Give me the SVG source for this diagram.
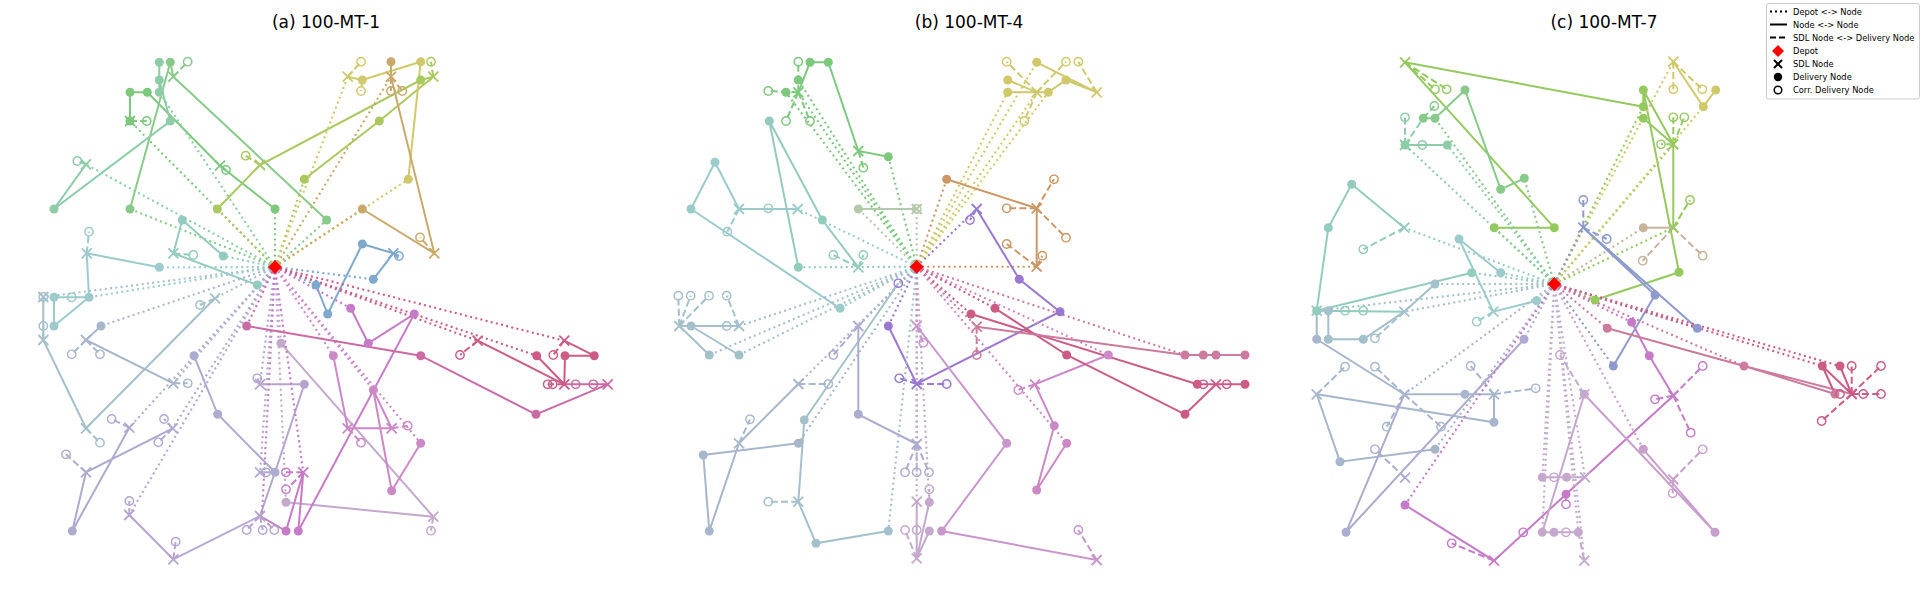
<svg xmlns="http://www.w3.org/2000/svg" xmlns:xlink="http://www.w3.org/1999/xlink" width="1923" height="600" viewBox="0 0 1923 600">
<style>
.sl{fill:none;stroke:currentColor;stroke-width:2}
.dt{fill:none;stroke:currentColor;stroke-width:2.1;stroke-dasharray:2 3.3}
.ds{fill:none;stroke:currentColor;stroke-width:2;stroke-dasharray:7 3.3}
.t{font-family:"DejaVu Sans","Liberation Sans",sans-serif;fill:#000}
.g1{color:#7dc87d}.g2{color:#88ca8a}.g3{color:#8dcca6}.yg{color:#a9c95f}.ye{color:#cfc96b}.tn{color:#c9a96b}
.bl{color:#7ea9cd}.tl{color:#93cbbe}.tl2{color:#9ccbcb}.tg{color:#a4c0ca}.gb{color:#a8b6cc}.lv{color:#adabd0}
.lv2{color:#b6a5d1}.ll{color:#c4a9cd}.ll2{color:#c89fcc}.mg{color:#c67bc8}.mg2{color:#cd88c6}.pk{color:#cc6aa4}
.rp{color:#cc5c86}.sg{color:#b3c9a9}.or{color:#cc9767}.pu{color:#9a78d1}.bm{color:#8c9acd}.ygc{color:#94c95e}.tnc{color:#c8b39b}
.pk2{color:#cc7a9e}.mg3{color:#c996cc}
</style>
<defs>
<circle id="F" r="4.5" fill="currentColor"/>
<circle id="O" r="4.2" fill="none" stroke="currentColor" stroke-width="1.4"/>
<path id="X" d="M-5 -5L5 5M-5 5L5 -5" stroke="currentColor" stroke-width="1.8" fill="none"/>
<path id="D" d="M0 -7L7 0L0 7L-7 0Z" fill="#ff0000"/>
</defs>
<rect width="1923" height="600" fill="#fff"/>
<text class="t" x="326" y="28" font-size="17" text-anchor="middle">(a) 100-MT-1</text>
<text class="t" x="969" y="28" font-size="17" text-anchor="middle">(b) 100-MT-4</text>
<text class="t" x="1604" y="28" font-size="17" text-anchor="middle">(c) 100-MT-7</text>

<g id="connectors">
<!-- subplot a -->
<g class="g1"><path class="dt" d="M275 267L275 209M275 267L130 121"/><path class="sl" d="M275 209L220 165.7L147.3 92.3L130 92.3L130 121"/><path class="ds" d="M130 121L146.7 121M220 165.7L226 170"/></g>
<g class="g2"><path class="dt" d="M275 267L130 209M275 267L326.7 220"/><path class="sl" d="M130 209L170.3 62.3L173.3 76.7L326.7 220"/><path class="ds" d="M173.3 76.7L187.7 61.7"/></g>
<g class="g3"><path class="dt" d="M275 267L159.3 92.3M275 267L86 164.3"/><path class="sl" d="M159.3 92.3L159.3 62.3M159.3 80L170.3 121L54 209L86 164.3"/><path class="ds" d="M86 164.3L77.3 161"/></g>
<g class="yg"><path class="dt" d="M275 267L217.3 209M275 267L304.3 179.3"/><path class="sl" d="M217.3 209L260 165L420.7 80L433.3 76.7L379.3 121L304.3 179.3"/><path class="ds" d="M260 165L245.7 155.7M433.3 76.7L431 61.7"/></g>
<g class="ye"><path class="dt" d="M275 267L347.7 76.7M275 267L408.3 179.3"/><path class="sl" d="M347.7 76.7L362.3 80L420.7 61.7L408.3 179.3"/><path class="ds" d="M347.7 76.7L361 61.7M362.3 80L361 91"/></g>
<g class="tn"><path class="dt" d="M275 267L391 76.7M275 267L362.3 209"/><path class="sl" d="M391 61.7L391 76.7L434.3 253.3L362.3 209"/><path class="ds" d="M391 76.7L391 91M391 76.7L402.3 91M434.3 253.3L420 237.3"/></g>
<g class="bl"><path class="dt" d="M275 267L316 285M275 267L373.3 279.3"/><path class="sl" d="M316 285L327.7 314L362.3 244L393.3 253.3L373.3 279.3"/><path class="ds" d="M393.3 253.3L399 256"/></g>
<g class="tl"><path class="dt" d="M275 267L223.3 256M275 267L257.3 285"/><path class="sl" d="M223.3 256L182.3 220L173.3 253.3L257.3 285"/><path class="ds" d="M173.3 253.3L193.3 255"/></g>
<g class="tl2"><path class="dt" d="M275 267L159.3 267.3M275 267L89 297.3"/><path class="sl" d="M159.3 267.3L86.7 253.3L89 297.3L54 297.3L54 326L89 297.3"/><path class="ds" d="M86.7 253.3L89 231.7"/></g>
<g class="tg"><path class="dt" d="M275 267L215 298.3M275 267L43.3 297"/><path class="sl" d="M43.3 297L43.3 340L86 428.3L215 298.3"/><path class="ds" d="M43.3 340L43.3 326M86 428.3L100 442.7M215 298.3L200 305"/></g>
<g class="gb"><path class="dt" d="M275 267L101 326M275 267L173.3 383.3"/><path class="sl" d="M101 326L86 340L173.3 383.3"/><path class="ds" d="M86 340L71.7 354.3M86 340L100 354.3M173.3 383.3L187.7 383.3"/></g>
<g class="lv"><path class="dt" d="M275 267L129.3 427.7M275 267L172.7 428.3M275 267L194 355.7M275 267L260 472.3"/><path class="sl" d="M129.3 427.7L72.3 531L86 472.3L172.7 428.3M194 355.7L217.7 414.3L275 472.3L260 472.3"/><path class="ds" d="M129.3 427.7L111.7 419M86 472.3L66 454.3M172.7 428.3L164 419M172.7 428.3L158.3 442.3"/></g>
<g class="lv2"><path class="dt" d="M275 267L129.3 515M275 267L260 384.3"/><path class="sl" d="M129.3 515L173.3 559.3L260 516L275 472.3L304.3 384.3L260 384.3"/><path class="ds" d="M129.3 515L129.3 501M173.3 559.3L175.7 541.7M260 516L246.7 530M260 516L262.7 530M260 516L274.3 530M260 384.3L257.3 378.3"/></g>
<g class="ll"><path class="dt" d="M275 267L281 343.3M275 267L286 502.3"/><path class="sl" d="M281 343.3L433.3 516.7L286 502.3"/><path class="ds" d="M433.3 516.7L431 530.7"/></g>
<g class="mg"><path class="dt" d="M275 267L350.7 308.3M275 267L303.3 472.3M275 267L262 514"/><path class="sl" d="M350.7 308.3L368.3 343.3L414.3 314L298.3 531L303.3 472.3L286 531L260 516"/><path class="ds" d="M303.3 472.3L286 472.3M303.3 472.3L290 486"/></g>
<g class="mg2"><path class="dt" d="M275 267L333.3 355.7M275 267L420.7 443.3M275 267L373.3 390"/><path class="sl" d="M333.3 355.7L347.7 428.3L391.7 428.3L373.3 390L391.7 490.7L420.7 443.3"/><path class="ds" d="M347.7 428.3L361 442.7M391.7 428.3L407.7 425.7"/></g>
<g class="pk"><path class="dt" d="M275 267L246.7 326"/><path class="sl" d="M246.7 326L420.7 355.7L536 414.3L607.7 384.3L564.3 384.3"/></g>
<g class="rp"><path class="dt" d="M275 267L477.7 340.7M275 267L536.7 355.7M275 267L564.3 340.7"/><path class="sl" d="M477.7 340.7L564.3 384.3L536.7 355.7M564.3 340.7L594.3 355.7L565 355.7L564.3 384.3"/><path class="ds" d="M477.7 340.7L460 355M564.3 340.7L553.3 355M564.3 384.3L547.7 384.3"/></g>
<!-- subplot b -->
<g class="g1"><path class="dt" d="M916.7 266.7L798.3 92.3M916.7 266.7L888.3 156.7M916.7 266.7L786 92.3M916.7 266.7L798.3 80"/><path class="sl" d="M798.3 92.3L810 62.3L828.3 62.3L858.3 151L888.3 156.7"/><path class="ds" d="M798.3 92.3L798.3 61.7M798.3 92.3L768.3 91M798.3 92.3L786 121M798.3 92.3L810 121M858.3 151L863.3 167.7"/></g>
<g class="tl"><path class="dt" d="M916.7 266.7L798.3 267.3"/><path class="sl" d="M798.3 267.3L769.3 121L822.3 220L858.3 267.3"/><path class="ds" d="M858.3 267.3L833.3 255M858.3 267.3L863.3 255"/></g>
<g class="tl2"><path class="dt" d="M916.7 266.7L797.7 209M916.7 266.7L840 308.3"/><path class="sl" d="M797.7 209L739 209L715 162.3L691 209L840 308.3"/><path class="ds" d="M739 209L727.3 231.7"/></g>
<g class="sg"><path class="dt" d="M916.7 266.7L858.3 209M916.7 266.7L916.7 209"/><path class="sl" d="M858.3 209L916.7 209"/></g>
<g class="or"><path class="dt" d="M916.7 266.7L946.7 179.3M916.7 266.7L1036.7 266.7"/><path class="sl" d="M946.7 179.3L1036.7 208.3L1036.7 266.7"/><path class="ds" d="M1036.7 208.3L1006.7 208.3M1036.7 208.3L1054 179.3M1036.7 208.3L1066 237.7M1036.7 266.7L1006.7 244M1036.7 266.7L1042.3 255.7"/></g>
<g class="ye"><path class="dt" d="M916.7 266.7L1036.7 92.3M916.7 266.7L1036.7 62.3M916.7 266.7L1007.7 92.3M916.7 266.7L1048.3 92.3"/><path class="sl" d="M1007.7 80L1036.7 92.3M1007.7 92.3L1048.3 92.3L1066 80L1096.7 92.3L1036.7 62.3"/><path class="ds" d="M1036.7 92.3L1006.7 61.7M1036.7 92.3L1066 61.7M1036.7 92.3L1024.3 121M1096.7 92.3L1078.3 61.7"/></g>
<g class="pu"><path class="dt" d="M916.7 266.7L976.7 209M916.7 266.7L888.3 326"/><path class="sl" d="M976.7 209L1019.3 279.3L1060 311.7L916.7 384L888.3 326"/><path class="ds" d="M976.7 209L970 220M916.7 384L899.3 378.3M916.7 384L946.7 384"/></g>
<g class="tg"><path class="dt" d="M916.7 266.7L739 326M916.7 266.7L739 355M916.7 266.7L709.3 355M916.7 266.7L898.3 283.3M916.7 266.7L888.3 531"/><path class="sl" d="M679.3 326L739 326M691 326L739 355M679.3 326L709.3 355M898.3 283.3L804.3 420L798.3 501.7L816 543.3L888.3 531"/><path class="ds" d="M679.3 326L678.3 295.7M679.3 326L690.7 295.7M679.3 326L709 295.7M739 326L726.7 295.7M798.3 501.7L768.3 501.7"/></g>
<g class="lv"><path class="dt" d="M916.7 266.7L858.3 326M916.7 266.7L916.7 444"/><path class="sl" d="M858.3 326L858.3 414.3L916.7 444"/><path class="ds" d="M858.3 326L833.3 355M916.7 444L905 472.3M916.7 444L916.7 472.3M916.7 444L929 472.3"/></g>
<g class="gb"><path class="dt" d="M916.7 266.7L798.3 384M916.7 266.7L798.3 443.3"/><path class="sl" d="M798.3 384L739 443.3L709.3 531L703.3 455L798.3 443.3"/><path class="ds" d="M798.3 384L828.3 384M739 443.3L750 419.3"/></g>
<g class="ll"><path class="dt" d="M916.7 266.7L916.7 501.7M916.7 266.7L929.3 502.3"/><path class="sl" d="M916.7 501.7L916.7 558.3L929.3 502.3M929.3 531L916.7 558.3"/><path class="ds" d="M916.7 558.3L905 530M929.3 502.3L929.3 489.3"/></g>
<g class="mg3"><path class="dt" d="M916.7 266.7L916.7 326"/><path class="sl" d="M916.7 326L1006.7 443.3L941.7 531L1096.7 560"/><path class="ds" d="M916.7 326L923.3 342.7M1096.7 560L1078.3 530"/></g>
<g class="mg2"><path class="dt" d="M916.7 266.7L1108.3 355M916.7 266.7L1066.7 443.3"/><path class="sl" d="M1108.3 355L1035 384.3L1054.3 425.7L1036.7 490L1066.7 443.3"/><path class="ds" d="M1035 384.3L1018.3 390"/></g>
<g class="rp"><path class="dt" d="M916.7 266.7L971 314M916.7 266.7L995 308.3"/><path class="sl" d="M971 314L1197.3 384.3L1245 384.3M995 308.3L1066.7 355L1185 414.3L1216 384.3"/></g>
<g class="pk2"><path class="dt" d="M916.7 266.7L976.7 326.7M916.7 266.7L1185 355"/><path class="sl" d="M976.7 326.7L1185 355L1245 355"/><path class="ds" d="M976.7 326.7L976.7 355"/></g>
<!-- subplot c -->
<g class="ygc"><path class="dt" d="M1554.3 284L1494.3 227.7M1554.3 284L1643.3 106.7"/><path class="sl" d="M1643.3 106.7L1405 62.3L1554.3 227.7L1494.3 227.7"/><path class="ds" d="M1405 62.3L1435 89.3M1405 62.3L1446.7 89.3"/></g>
<g class="g2"><path class="dt" d="M1554.3 284L1435 118.3M1554.3 284L1524.3 178.3"/><path class="sl" d="M1423.3 118.3L1435 118.3L1465 90L1500.7 189.3L1524.3 178.3"/><path class="ds" d="M1423.3 118.3L1434.3 106"/></g>
<g class="g3"><path class="dt" d="M1554.3 284L1405 145M1554.3 284L1447.3 145"/><path class="sl" d="M1405 145L1447.3 145"/><path class="ds" d="M1405 145L1405 117.3M1405 145L1423.3 118.3"/></g>
<g class="ygc"><path class="dt" d="M1554.3 284L1673.3 144.3M1554.3 284L1673.3 227.7M1554.3 284L1595 300"/><path class="sl" d="M1595 300L1679 272.3L1643.3 90L1643.3 106.7M1643.3 90L1673.3 144.3L1643.3 118.3M1673.3 144.3L1673.3 227.7"/><path class="ds" d="M1673.3 144.3L1673.3 117.3M1673.3 144.3L1684.3 117.3M1673.3 144.3L1661 144.3M1673.3 227.7L1690 200"/></g>
<g class="tnc"><path class="dt" d="M1554.3 284L1643.3 227.7"/><path class="sl" d="M1643.3 227.7L1673.3 227.7"/><path class="ds" d="M1673.3 227.7L1642.7 260.7M1673.3 227.7L1702.7 255.7"/></g>
<g class="ye"><path class="dt" d="M1554.3 284L1673.3 61.7M1554.3 284L1703.3 106.7"/><path class="sl" d="M1673.3 61.7L1703.3 106.7L1715.7 90"/><path class="ds" d="M1673.3 61.7L1673.3 89.3M1673.3 61.7L1702.3 89.3"/></g>
<g class="bm"><path class="dt" d="M1554.3 284L1583.3 227.7M1554.3 284L1613.3 366M1554.3 284L1697.3 328.3"/><path class="sl" d="M1583.3 227.7L1697.3 328.3M1583.3 227.7L1655 295L1613.3 366"/><path class="ds" d="M1583.3 227.7L1583.3 200M1583.3 227.7L1606.7 239"/></g>
<g class="tl"><path class="dt" d="M1554.3 284L1404.3 227.7M1554.3 284L1471.7 272.7"/><path class="sl" d="M1404.3 227.7L1351.7 184.3L1328.3 227.7L1316.7 310.7M1471.7 272.7L1316.7 310.7L1404.3 311.7"/><path class="ds" d="M1404.3 227.7L1363.3 249.3"/></g>
<g class="tl2"><path class="dt" d="M1554.3 284L1500.7 272.7M1554.3 284L1536.7 300.7"/><path class="sl" d="M1500.7 272.7L1459 239L1493.3 311.7L1536.7 300.7"/><path class="ds" d="M1493.3 311.7L1476.7 321.7"/></g>
<g class="tg"><path class="dt" d="M1554.3 284L1435 284M1554.3 284L1404.3 311.7M1554.3 284L1316.7 310.7"/><path class="sl" d="M1328.3 310.7L1328.3 339.3L1363.3 339.3L1404.3 311.7L1435 284"/><path class="ds" d="M1404.3 311.7L1375 338.3"/></g>
<g class="gb"><path class="dt" d="M1554.3 284L1404.3 394.3M1554.3 284L1435 449.3"/><path class="sl" d="M1316.7 310.7L1316.7 339.3L1404.3 394.3L1494 394.3L1494 422.3L1316.7 394.3L1340 461.7L1435 449.3"/><path class="ds" d="M1316.7 394.3L1345 366.7M1404.3 394.3L1375 366.7M1404.3 394.3L1441 426.7M1404.3 394.3L1386.7 426.7M1494 394.3L1470.7 366M1494 394.3L1535.7 388.3"/></g>
<g class="lv"><path class="dt" d="M1554.3 284L1524 339.3"/><path class="sl" d="M1404.3 394.3L1346 532.3L1524 339.3"/><path class="ds" d="M1405 477.7L1375 449.3"/></g>
<g class="mg"><path class="dt" d="M1554.3 284L1405 505M1554.3 284L1631.7 322.3"/><path class="sl" d="M1405 505L1494 560.7L1566 494.3L1673.3 395.7L1649.3 355.7L1631.7 322.3"/><path class="ds" d="M1494 560.7L1451.7 543.3M1566 494.3L1566 504.3M1673.3 395.7L1702.7 366M1673.3 395.7L1655 399.3M1673.3 395.7L1690.7 432.7"/></g>
<g class="ll"><path class="dt" d="M1554.3 284L1542.3 477.3M1554.3 284L1585 477.3M1554.3 284L1578.3 532.3M1554.3 284L1584.3 560.7M1554.3 284L1542.3 532.3"/><path class="sl" d="M1542.3 477.3L1585 477.3M1542.3 532.3L1578.3 532.3M1542.3 532.3L1584.3 394.3"/><path class="ds" d="M1578.3 532.3L1584.3 560.7M1584.3 394.3L1560 355"/></g>
<g class="ll2"><path class="dt" d="M1554.3 284L1643.3 449.3"/><path class="sl" d="M1584.3 394.3L1715 532.3L1643.3 449.3"/><path class="ds" d="M1673.3 479.3L1702.7 449.3M1673.3 479.3L1672.7 493.3"/></g>
<g class="pk2"><path class="dt" d="M1554.3 284L1607.3 328.3M1554.3 284L1744 366"/><path class="sl" d="M1607.3 328.3L1744 366L1835 394M1744 366L1851.7 394"/></g>
<g class="rp"><path class="dt" d="M1554.3 284L1822.3 366M1554.3 284L1840 366"/><path class="sl" d="M1822.3 366L1835 394M1822.3 366L1851.7 394M1840 366L1851.7 394"/><path class="ds" d="M1851.7 394L1851.7 366M1851.7 394L1881 366M1851.7 394L1863.3 394M1851.7 394L1881 394M1851.7 394L1821.7 421"/></g>
</g>

<g id="nodes">
<!-- a -->
<g id="n-a1" class="g1"><use href="#F" x="275" y="209"/><use href="#X" x="220" y="165.7"/><use href="#O" x="226" y="170"/><use href="#F" x="147.3" y="92.3"/><use href="#F" x="130" y="92.3"/><use href="#F" x="130" y="121"/><use href="#X" x="130" y="121"/><use href="#O" x="146.7" y="121"/></g>
<g id="n-a2" class="g2"><use href="#F" x="130" y="209"/><use href="#F" x="170.3" y="62.3"/><use href="#X" x="173.3" y="76.7"/><use href="#O" x="187.7" y="61.7"/><use href="#F" x="326.7" y="220"/></g>
<g id="n-a3" class="g3"><use href="#F" x="159.3" y="92.3"/><use href="#F" x="159.3" y="80"/><use href="#F" x="159.3" y="62.3"/><use href="#F" x="170.3" y="121"/><use href="#F" x="54" y="209"/><use href="#X" x="86" y="164.3"/><use href="#O" x="77.3" y="161"/></g>
<g id="n-a4" class="yg"><use href="#F" x="217.3" y="209"/><use href="#X" x="260" y="165"/><use href="#O" x="245.7" y="155.7"/><use href="#F" x="420.7" y="80"/><use href="#X" x="433.3" y="76.7"/><use href="#O" x="431" y="61.7"/><use href="#F" x="379.3" y="121"/><use href="#F" x="304.3" y="179.3"/></g>
<g id="n-a5" class="ye"><use href="#X" x="347.7" y="76.7"/><use href="#O" x="361" y="61.7"/><use href="#O" x="361" y="91"/><use href="#F" x="362.3" y="80"/><use href="#F" x="420.7" y="61.7"/><use href="#F" x="408.3" y="179.3"/></g>
<g id="n-a6" class="tn"><use href="#F" x="391" y="61.7"/><use href="#X" x="391" y="76.7"/><use href="#O" x="391" y="91"/><use href="#O" x="402.3" y="91"/><use href="#X" x="434.3" y="253.3"/><use href="#O" x="420" y="237.3"/><use href="#F" x="362.3" y="209"/></g>
<g id="n-a7" class="bl"><use href="#F" x="316" y="285"/><use href="#F" x="327.7" y="314"/><use href="#F" x="362.3" y="244"/><use href="#X" x="393.3" y="253.3"/><use href="#O" x="399" y="256"/><use href="#F" x="373.3" y="279.3"/></g>
<g id="n-a8" class="tl"><use href="#F" x="223.3" y="256"/><use href="#F" x="182.3" y="220"/><use href="#X" x="173.3" y="253.3"/><use href="#O" x="193.3" y="255"/><use href="#F" x="257.3" y="285"/></g>
<g id="n-a9" class="tl2"><use href="#F" x="159.3" y="267.3"/><use href="#X" x="86.7" y="253.3"/><use href="#O" x="89" y="231.7"/><use href="#F" x="89" y="297.3"/><use href="#O" x="71.7" y="297.3"/><use href="#F" x="54" y="297.3"/><use href="#F" x="54" y="326"/></g>
<g id="n-a10" class="tg"><use href="#X" x="43.3" y="297"/><use href="#O" x="43.3" y="297"/><use href="#X" x="43.3" y="340"/><use href="#O" x="43.3" y="326"/><use href="#X" x="86" y="428.3"/><use href="#O" x="100" y="442.7"/><use href="#X" x="215" y="298.3"/><use href="#O" x="200" y="305"/></g>
<g id="n-a11" class="gb"><use href="#F" x="101" y="326"/><use href="#X" x="86" y="340"/><use href="#O" x="71.7" y="354.3"/><use href="#O" x="100" y="354.3"/><use href="#X" x="173.3" y="383.3"/><use href="#O" x="187.7" y="383.3"/></g>
<g id="n-a12" class="lv"><use href="#X" x="129.3" y="427.7"/><use href="#O" x="111.7" y="419"/><use href="#F" x="72.3" y="531"/><use href="#X" x="86" y="472.3"/><use href="#O" x="66" y="454.3"/><use href="#X" x="172.7" y="428.3"/><use href="#O" x="164" y="419"/><use href="#O" x="158.3" y="442.3"/><use href="#F" x="194" y="355.7"/><use href="#F" x="217.7" y="414.3"/><use href="#F" x="275" y="472.3"/><use href="#X" x="260" y="472.3"/><use href="#O" x="266" y="472.3"/></g>
<g id="n-a13" class="lv2"><use href="#X" x="129.3" y="515"/><use href="#O" x="129.3" y="501"/><use href="#X" x="173.3" y="559.3"/><use href="#O" x="175.7" y="541.7"/><use href="#X" x="260" y="516"/><use href="#O" x="246.7" y="530"/><use href="#O" x="262.7" y="530"/><use href="#O" x="274.3" y="530"/><use href="#F" x="304.3" y="384.3"/><use href="#X" x="260" y="384.3"/><use href="#O" x="257.3" y="378.3"/></g>
<g id="n-a14" class="ll"><use href="#F" x="281" y="343.3"/><use href="#X" x="433.3" y="516.7"/><use href="#O" x="431" y="530.7"/><use href="#F" x="286" y="502.3"/></g>
<g id="n-a15" class="mg"><use href="#F" x="350.7" y="308.3"/><use href="#F" x="368.3" y="343.3"/><use href="#F" x="414.3" y="314"/><use href="#F" x="298.3" y="531"/><use href="#X" x="303.3" y="472.3"/><use href="#O" x="286" y="472.3"/><use href="#O" x="286" y="489.3"/><use href="#F" x="286" y="531"/></g>
<g id="n-a16" class="mg2"><use href="#F" x="333.3" y="355.7"/><use href="#X" x="347.7" y="428.3"/><use href="#O" x="361" y="442.7"/><use href="#X" x="391.7" y="428.3"/><use href="#O" x="407.7" y="425.7"/><use href="#F" x="373.3" y="390"/><use href="#F" x="391.7" y="490.7"/><use href="#F" x="420.7" y="443.3"/></g>
<g id="n-a17" class="pk"><use href="#F" x="246.7" y="326"/><use href="#F" x="420.7" y="355.7"/><use href="#F" x="536" y="414.3"/><use href="#X" x="607.7" y="384.3"/><use href="#O" x="593.3" y="384.3"/><use href="#O" x="575.7" y="384.3"/></g>
<g id="n-a18" class="rp"><use href="#X" x="477.7" y="340.7"/><use href="#O" x="460" y="355"/><use href="#F" x="536.7" y="355.7"/><use href="#X" x="564.3" y="340.7"/><use href="#O" x="553.3" y="355"/><use href="#F" x="594.3" y="355.7"/><use href="#F" x="565" y="355.7"/><use href="#X" x="564.3" y="384.3"/><use href="#O" x="547.7" y="384.3"/><use href="#O" x="552.7" y="384.3"/></g>
<!-- b -->
<g id="n-b1" class="g1"><use href="#F" x="798.3" y="80"/><use href="#F" x="786" y="92.3"/><use href="#X" x="798.3" y="92.3"/><use href="#O" x="798.3" y="61.7"/><use href="#O" x="768.3" y="91"/><use href="#O" x="786" y="121"/><use href="#O" x="810" y="121"/><use href="#F" x="810" y="62.3"/><use href="#F" x="828.3" y="62.3"/><use href="#X" x="858.3" y="151"/><use href="#O" x="863.3" y="167.7"/><use href="#F" x="888.3" y="156.7"/></g>
<g id="n-b2" class="tl"><use href="#F" x="798.3" y="267.3"/><use href="#F" x="769.3" y="121"/><use href="#F" x="822.3" y="220"/><use href="#X" x="858.3" y="267.3"/><use href="#O" x="833.3" y="255"/><use href="#O" x="863.3" y="255"/></g>
<g id="n-b3" class="tl2"><use href="#X" x="797.7" y="209"/><use href="#O" x="768.3" y="208.3"/><use href="#X" x="739" y="209"/><use href="#O" x="727.3" y="231.7"/><use href="#F" x="715" y="162.3"/><use href="#F" x="691" y="209"/><use href="#F" x="840" y="308.3"/></g>
<g id="n-b4" class="sg"><use href="#F" x="858.3" y="209"/><use href="#X" x="916.7" y="209"/><use href="#O" x="916.7" y="209"/></g>
<g id="n-b5" class="or"><use href="#F" x="946.7" y="179.3"/><use href="#X" x="1036.7" y="208.3"/><use href="#O" x="1006.7" y="208.3"/><use href="#O" x="1054" y="179.3"/><use href="#O" x="1066" y="237.7"/><use href="#X" x="1036.7" y="266.7"/><use href="#O" x="1006.7" y="244"/><use href="#O" x="1042.3" y="255.7"/></g>
<g id="n-b6" class="ye"><use href="#O" x="1006.7" y="61.7"/><use href="#F" x="1036.7" y="62.3"/><use href="#O" x="1066" y="61.7"/><use href="#O" x="1078.3" y="61.7"/><use href="#F" x="1007.7" y="80"/><use href="#F" x="1007.7" y="92.3"/><use href="#X" x="1036.7" y="92.3"/><use href="#F" x="1048.3" y="92.3"/><use href="#F" x="1066" y="80"/><use href="#X" x="1096.7" y="92.3"/><use href="#O" x="1024.3" y="121"/></g>
<g id="n-b7" class="pu"><use href="#X" x="976.7" y="209"/><use href="#O" x="970" y="220"/><use href="#F" x="1019.3" y="279.3"/><use href="#F" x="1060" y="311.7"/><use href="#X" x="916.7" y="384"/><use href="#O" x="899.3" y="378.3"/><use href="#O" x="946.7" y="384"/><use href="#F" x="888.3" y="326"/><use href="#O" x="898.3" y="283.3"/></g>
<g id="n-b8" class="tg"><use href="#O" x="678.3" y="295.7"/><use href="#O" x="690.7" y="295.7"/><use href="#O" x="709" y="295.7"/><use href="#O" x="726.7" y="295.7"/><use href="#X" x="679.3" y="326"/><use href="#F" x="691" y="326"/><use href="#O" x="726.7" y="326"/><use href="#X" x="739" y="326"/><use href="#F" x="709.3" y="355"/><use href="#F" x="739" y="355"/><use href="#F" x="804.3" y="420"/><use href="#X" x="798.3" y="501.7"/><use href="#O" x="768.3" y="501.7"/><use href="#F" x="816" y="543.3"/><use href="#F" x="888.3" y="531"/></g>
<g id="n-b9" class="lv"><use href="#X" x="858.3" y="326"/><use href="#O" x="833.3" y="355"/><use href="#F" x="858.3" y="414.3"/><use href="#X" x="916.7" y="444"/><use href="#O" x="905" y="472.3"/><use href="#O" x="916.7" y="472.3"/><use href="#O" x="929" y="472.3"/></g>
<g id="n-b10" class="gb"><use href="#X" x="798.3" y="384"/><use href="#O" x="828.3" y="384"/><use href="#X" x="739" y="443.3"/><use href="#O" x="750" y="419.3"/><use href="#F" x="709.3" y="531"/><use href="#F" x="703.3" y="455"/><use href="#F" x="798.3" y="443.3"/></g>
<g id="n-b11" class="ll"><use href="#X" x="916.7" y="501.7"/><use href="#F" x="929.3" y="502.3"/><use href="#O" x="929.3" y="489.3"/><use href="#O" x="905" y="530"/><use href="#O" x="916.7" y="530"/><use href="#F" x="929.3" y="531"/><use href="#X" x="916.7" y="558.3"/></g>
<g id="n-b12" class="mg3"><use href="#X" x="916.7" y="326"/><use href="#O" x="923.3" y="342.7"/><use href="#F" x="1006.7" y="443.3"/><use href="#F" x="941.7" y="531"/><use href="#X" x="1096.7" y="560"/><use href="#O" x="1078.3" y="530"/></g>
<g id="n-b13" class="mg2"><use href="#F" x="1108.3" y="355"/><use href="#X" x="1035" y="384.3"/><use href="#O" x="1018.3" y="390"/><use href="#F" x="1054.3" y="425.7"/><use href="#F" x="1036.7" y="490"/><use href="#F" x="1066.7" y="443.3"/></g>
<g id="n-b14" class="rp"><use href="#F" x="971" y="314"/><use href="#F" x="995" y="308.3"/><use href="#F" x="1066.7" y="355"/><use href="#F" x="1185" y="414.3"/><use href="#F" x="1197.3" y="384.3"/><use href="#O" x="1203.3" y="384.3"/><use href="#X" x="1216" y="384.3"/><use href="#O" x="1226.7" y="384.3"/><use href="#F" x="1245" y="384.3"/></g>
<g id="n-b15" class="pk2"><use href="#X" x="976.7" y="326.7"/><use href="#O" x="976.7" y="355"/><use href="#F" x="1185" y="355"/><use href="#F" x="1203.3" y="355"/><use href="#F" x="1216" y="355"/><use href="#F" x="1245" y="355"/></g>
<!-- c -->
<g id="n-c1" class="ygc"><use href="#X" x="1405" y="62.3"/><use href="#O" x="1435" y="89.3"/><use href="#O" x="1446.7" y="89.3"/><use href="#F" x="1554.3" y="227.7"/><use href="#F" x="1494.3" y="227.7"/><use href="#F" x="1643.3" y="106.7"/><use href="#F" x="1643.3" y="90"/><use href="#F" x="1643.3" y="118.3"/><use href="#X" x="1673.3" y="144.3"/><use href="#O" x="1673.3" y="117.3"/><use href="#O" x="1684.3" y="117.3"/><use href="#O" x="1661" y="144.3"/><use href="#X" x="1673.3" y="227.7"/><use href="#O" x="1690" y="200"/><use href="#F" x="1679" y="272.3"/><use href="#F" x="1595" y="300"/></g>
<g id="n-c2" class="g2"><use href="#F" x="1423.3" y="118.3"/><use href="#O" x="1434.3" y="106"/><use href="#F" x="1435" y="118.3"/><use href="#F" x="1465" y="90"/><use href="#F" x="1500.7" y="189.3"/><use href="#F" x="1524.3" y="178.3"/></g>
<g id="n-c3" class="g3"><use href="#O" x="1405" y="117.3"/><use href="#F" x="1405" y="145"/><use href="#X" x="1405" y="145"/><use href="#O" x="1422.3" y="145"/><use href="#F" x="1447.3" y="145"/></g>
<g id="n-c4" class="tnc"><use href="#F" x="1643.3" y="227.7"/><use href="#O" x="1642.7" y="260.7"/><use href="#O" x="1702.7" y="255.7"/></g>
<g id="n-c5" class="ye"><use href="#X" x="1673.3" y="61.7"/><use href="#O" x="1673.3" y="89.3"/><use href="#O" x="1702.3" y="89.3"/><use href="#F" x="1703.3" y="106.7"/><use href="#F" x="1715.7" y="90"/></g>
<g id="n-c6" class="bm"><use href="#X" x="1583.3" y="227.7"/><use href="#O" x="1583.3" y="200"/><use href="#O" x="1606.7" y="239"/><use href="#F" x="1655" y="295"/><use href="#F" x="1697.3" y="328.3"/><use href="#F" x="1613.3" y="366"/></g>
<g id="n-c7" class="tl"><use href="#X" x="1404.3" y="227.7"/><use href="#O" x="1363.3" y="249.3"/><use href="#F" x="1351.7" y="184.3"/><use href="#F" x="1328.3" y="227.7"/><use href="#F" x="1316.7" y="310.7"/><use href="#X" x="1316.7" y="310.7"/><use href="#F" x="1471.7" y="272.7"/><use href="#O" x="1345" y="310.7"/><use href="#O" x="1363.3" y="310.7"/></g>
<g id="n-c8" class="tl2"><use href="#F" x="1459" y="239"/><use href="#F" x="1500.7" y="272.7"/><use href="#X" x="1493.3" y="311.7"/><use href="#O" x="1476.7" y="321.7"/><use href="#F" x="1536.7" y="300.7"/></g>
<g id="n-c9" class="tg"><use href="#F" x="1328.3" y="310.7"/><use href="#F" x="1328.3" y="339.3"/><use href="#F" x="1363.3" y="339.3"/><use href="#X" x="1404.3" y="311.7"/><use href="#O" x="1375" y="338.3"/><use href="#F" x="1435" y="284"/></g>
<g id="n-c10" class="gb"><use href="#F" x="1316.7" y="339.3"/><use href="#X" x="1316.7" y="394.3"/><use href="#O" x="1345" y="366.7"/><use href="#X" x="1404.3" y="394.3"/><use href="#O" x="1375" y="366.7"/><use href="#O" x="1441" y="426.7"/><use href="#O" x="1386.7" y="426.7"/><use href="#F" x="1465" y="394.3"/><use href="#X" x="1494" y="394.3"/><use href="#O" x="1470.7" y="366"/><use href="#O" x="1535.7" y="388.3"/><use href="#F" x="1494" y="422.3"/><use href="#F" x="1340" y="461.7"/><use href="#F" x="1435" y="449.3"/></g>
<g id="n-c11" class="lv"><use href="#F" x="1346" y="532.3"/><use href="#F" x="1524" y="339.3"/><use href="#X" x="1405" y="477.7"/><use href="#O" x="1375" y="449.3"/></g>
<g id="n-c12" class="mg"><use href="#F" x="1405" y="505"/><use href="#X" x="1494" y="560.7"/><use href="#O" x="1451.7" y="543.3"/><use href="#O" x="1523.3" y="532.3"/><use href="#F" x="1566" y="494.3"/><use href="#O" x="1566" y="504.3"/><use href="#X" x="1673.3" y="395.7"/><use href="#O" x="1702.7" y="366"/><use href="#O" x="1655" y="399.3"/><use href="#O" x="1690.7" y="432.7"/><use href="#F" x="1649.3" y="355.7"/><use href="#F" x="1631.7" y="322.3"/></g>
<g id="n-c13" class="ll"><use href="#F" x="1542.3" y="477.3"/><use href="#O" x="1554" y="477.3"/><use href="#F" x="1566.7" y="477.3"/><use href="#X" x="1585" y="477.3"/><use href="#F" x="1542.3" y="532.3"/><use href="#F" x="1554" y="532.3"/><use href="#O" x="1566" y="532.3"/><use href="#F" x="1578.3" y="532.3"/><use href="#X" x="1584.3" y="560.7"/><use href="#F" x="1584.3" y="394.3"/><use href="#X" x="1584.3" y="394.3"/><use href="#O" x="1560" y="355"/></g>
<g id="n-c14" class="ll2"><use href="#F" x="1643.3" y="449.3"/><use href="#X" x="1673.3" y="479.3"/><use href="#O" x="1702.7" y="449.3"/><use href="#O" x="1672.7" y="493.3"/><use href="#F" x="1715" y="532.3"/></g>
<g id="n-c15" class="pk2"><use href="#F" x="1607.3" y="328.3"/><use href="#F" x="1744" y="366"/><use href="#F" x="1835" y="394"/></g>
<g id="n-c16" class="rp"><use href="#F" x="1822.3" y="366"/><use href="#F" x="1840" y="366"/><use href="#X" x="1851.7" y="394"/><use href="#O" x="1851.7" y="366"/><use href="#O" x="1881" y="366"/><use href="#O" x="1840" y="394"/><use href="#O" x="1863.3" y="394"/><use href="#O" x="1881" y="394"/><use href="#O" x="1821.7" y="421"/></g>
<g id="depot-a"><use href="#D" x="275" y="267"/></g>
<g id="depot-b"><use href="#D" x="916.7" y="266.7"/></g>
<g id="depot-c"><use href="#D" x="1554.3" y="284"/></g>
</g>

<g id="legend">
<rect x="1766.5" y="3.5" width="153" height="95.5" rx="2.5" fill="#fff" fill-opacity="0.8" stroke="#cccccc" stroke-width="1"/>
<path d="M1770 11.5L1787 11.5" stroke="#000" stroke-width="2" stroke-dasharray="2 3" fill="none"/>
<path d="M1770 24.5L1787 24.5" stroke="#000" stroke-width="2" fill="none"/>
<path d="M1770 37.5L1787 37.5" stroke="#000" stroke-width="2" stroke-dasharray="6 3" fill="none"/>
<path d="M1778 45L1784 51L1778 57L1772 51Z" fill="#ff0000"/>
<path d="M1774 60L1782 68M1774 68L1782 60" stroke="#000" stroke-width="2" fill="none"/>
<circle cx="1778" cy="77" r="4.2" fill="#000"/>
<circle cx="1778" cy="90" r="3.8" fill="none" stroke="#000" stroke-width="1.5"/>
<g class="t" font-size="8.3">
<text x="1793" y="14.5">Depot &lt;-&gt; Node</text>
<text x="1793" y="27.5">Node &lt;-&gt; Node</text>
<text x="1793" y="40.5">SDL Node &lt;-&gt; Delivery Node</text>
<text x="1793" y="54">Depot</text>
<text x="1793" y="67">SDL Node</text>
<text x="1793" y="80">Delivery Node</text>
<text x="1793" y="93">Corr. Delivery Node</text>
</g>
</g>
</svg>
